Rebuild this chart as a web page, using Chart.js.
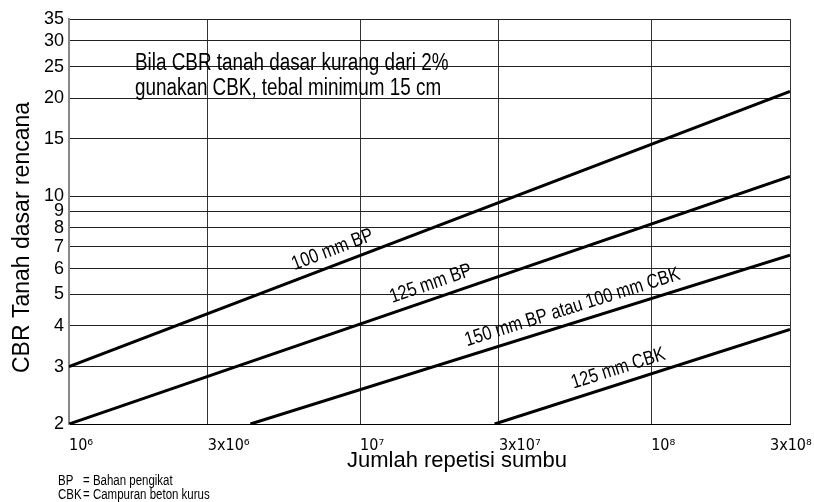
<!DOCTYPE html>
<html><head><meta charset="utf-8">
<script src="https://cdn.jsdelivr.net/npm/chart.js@4/dist/chart.umd.min.js"></script>
<style>html,body{margin:0;padding:0;background:#fff}#wrap{width:814px;height:502px;position:relative}</style>
</head><body><div id="wrap"><canvas id="c" width="814" height="502"></canvas></div>
<script>
// ---- data ----
const xTicks = [1e6, 3e6, 1e7, 3e7, 1e8, 3e8];
const xTickLabels = ['10\u2076', '3x10\u2076', '10\u2077', '3x10\u2077', '10\u2078', '3x10\u2078'];
const yTicks = [2, 3, 4, 5, 6, 7, 8, 9, 10, 15, 20, 25, 30, 35];

const seriesNames = ['100 mm BP', '125 mm BP', '150 mm BP atau 100 mm CBK', '125 mm CBK'];
const bp100X = [1e6, 3e8];   const bp100Y = [3, 21];
const bp125X = [1e6, 3e8];   const bp125Y = [2, 11.5];
const bp150X = [4.2e6, 3e8]; const bp150Y = [2, 6.6];
const cbk125X = [2.9e7, 3e8]; const cbk125Y = [2, 3.9];
const labelAnchorX = [8.4e6, 1.82e7, 5.56e7, 8.0e7];

const noteLines = ['Bila CBR tanah dasar kurang dari 2%', 'gunakan CBK, tebal minimum 15 cm'];
const footKeys = ['BP', 'CBK'];
const footTexts = ['= Bahan pengikat', '= Campuran beton kurus'];
const xTitle = '         Jumlah repetisi sumbu';
const yTitle = 'CBR Tanah dasar rencana     ';

const seriesX = [bp100X, bp125X, bp150X, cbk125X];
const seriesY = [bp100Y, bp125Y, bp150Y, cbk125Y];
const FONT = "'Liberation Sans', Arial, sans-serif";
const TICKFONT = "'DejaVu Sans Condensed', 'DejaVu Sans', sans-serif";
const NARROW = 0.82;

const datasets = seriesX.map((xs, i) => ({
  label: seriesNames[i],
  data: xs.map((x, j) => ({x: x, y: seriesY[i][j]})),
  showLine: true,
  borderColor: '#000',
  borderWidth: 3,
  pointRadius: 0,
  fill: false
}));

function narrowText(ctx, text, x, y) {
  ctx.save();
  ctx.translate(x, y);
  ctx.scale(NARROW, 1);
  ctx.fillText(text, 0, 0);
  ctx.restore();
}

const overlay = {
  id: 'overlay',
  afterUpdate(chart) {
    const s = chart.scales.x;
    const items = s.getLabelItems();
    const last = items[items.length - 1];
    if (last) { last.options.translation[0] -= 20; }
  },
  afterDraw(chart) {
    const ctx = chart.ctx, sx = chart.scales.x, sy = chart.scales.y, a = chart.chartArea;
    ctx.save();
    ctx.fillStyle = '#000';
    // line labels
    ctx.font = '20px ' + FONT;
    seriesX.forEach((xs, i) => {
      const px0 = sx.getPixelForValue(xs[0]), py0 = sy.getPixelForValue(seriesY[i][0]);
      const px1 = sx.getPixelForValue(xs[1]), py1 = sy.getPixelForValue(seriesY[i][1]);
      const ang = Math.atan2(py1 - py0, px1 - px0);
      const ax = sx.getPixelForValue(labelAnchorX[i]);
      const t = (ax - px0) / (px1 - px0);
      const ay = py0 + t * (py1 - py0);
      const off = 15;
      ctx.save();
      ctx.translate(ax + off * Math.sin(ang), ay - off * Math.cos(ang));
      ctx.rotate(ang);
      ctx.scale(NARROW, 1);
      ctx.textAlign = 'center';
      ctx.textBaseline = 'middle';
      ctx.fillText(seriesNames[i], 0, 0);
      ctx.restore();
    });
    // note
    ctx.font = '23px ' + FONT;
    ctx.textAlign = 'left';
    ctx.textBaseline = 'alphabetic';
    narrowText(ctx, noteLines[0], a.left + 66, a.top + 51);
    narrowText(ctx, noteLines[1], a.left + 66, a.top + 76);
    // footnotes
    ctx.font = '14px ' + FONT;
    narrowText(ctx, footKeys[0], 58, 485);
    narrowText(ctx, footKeys[1], 58, 499);
    narrowText(ctx, footTexts[0], 83, 485);
    narrowText(ctx, footTexts[1], 83, 499);
    ctx.restore();
  }
};

new Chart(document.getElementById('c'), {
  type: 'scatter',
  data: { datasets: datasets },
  options: {
    responsive: false,
    animation: false,
    devicePixelRatio: 1,
    layout: { padding: { left: 0, right: 24, top: 19, bottom: 0 } },
    plugins: { legend: { display: false }, tooltip: { enabled: false } },
    scales: {
      x: {
        type: 'logarithmic',
        min: 1e6, max: 3e8,
        afterBuildTicks: s => { s.ticks = xTicks.map(v => ({value: v})); },
        afterFit: s => { s.height = 78; s.paddingLeft = 0; s.paddingRight = 0; },
        grid: { color: '#333', lineWidth: 1, drawTicks: false },
        border: { color: '#000', width: 1 },
        ticks: {
          autoSkip: false, maxRotation: 0, minRotation: 0, align: 'start', padding: 12,
          color: '#000', font: { family: TICKFONT, size: 16 },
          callback: (v, i) => xTickLabels[i]
        },
        title: { display: true, text: xTitle, color: '#000', font: { family: FONT, size: 22 }, padding: { top: 0, bottom: 28 } }
      },
      y: {
        type: 'logarithmic',
        min: 2, max: 35,
        afterBuildTicks: s => { s.ticks = yTicks.map(v => ({value: v})); },
        afterFit: s => { s.width = 69; },
        grid: { color: '#222', lineWidth: 1, drawTicks: false },
        border: { color: '#888', width: 2 },
        ticks: {
          autoSkip: false, padding: 5, color: '#000', font: { family: FONT, size: 18 },
          callback: (v, i) => String(yTicks[i])
        },
        title: { display: true, text: yTitle, color: '#000', font: { family: FONT, size: 23 }, padding: { top: 9, bottom: 0 } }
      }
    }
  },
  plugins: [overlay]
});
</script>
</body></html>
